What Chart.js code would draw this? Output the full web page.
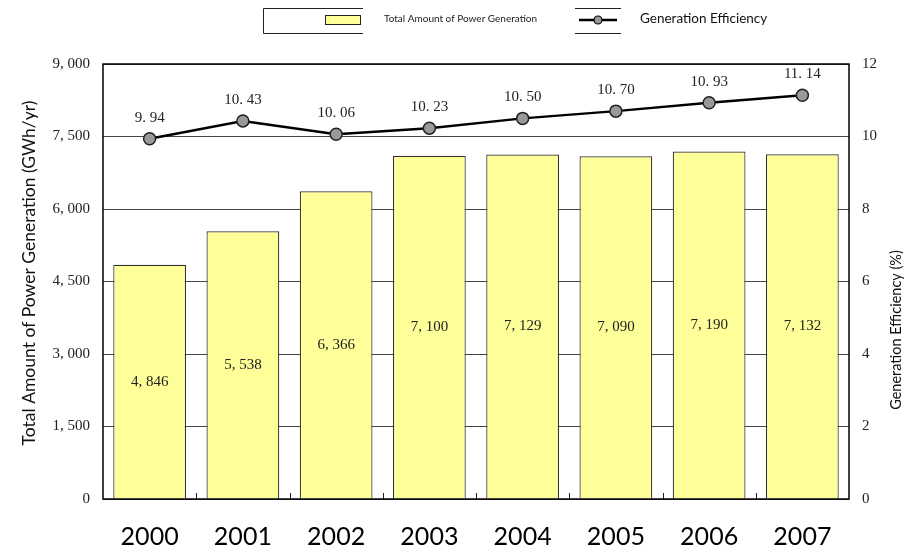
<!DOCTYPE html>
<html>
<head>
<meta charset="utf-8">
<script src="https://cdn.jsdelivr.net/npm/chart.js@4.4.0/dist/chart.umd.min.js"></script>
<style>
  html, body { margin: 0; padding: 0; background: #fff; }
  #chartWrap { width: 913px; height: 548px; }
</style>
</head>
<body>
<div id="chartWrap"><canvas id="powerChart" width="913" height="548"></canvas></div>
<script>
// Data
const years = ['2000', '2001', '2002', '2003', '2004', '2005', '2006', '2007'];
const powerGeneration = [4846, 5538, 6366, 7100, 7129, 7090, 7190, 7132]; // GWh/yr
const efficiency = [9.94, 10.43, 10.06, 10.23, 10.50, 10.70, 10.93, 11.14]; // %
const powerAxisRange = [0, 9000, 1500]; // min, max, step
const effAxisRange = [0, 12, 2];

const barLabel = 'Total Amount of Power Generation';
const lineLabel = 'Generation Efficiency';
const leftTitle = 'Total Amount of Power Generation (GWh/yr)';
const rightTitle = 'Generation Efficiency (%)';

const SERIF = '"Liberation Serif", "DejaVu Serif", serif';
const SANS = 'Lato, "Open Sans", sans-serif';
const BAR_FILL = '#FFFF99';

// "4,846" -> "4, 846" like the full-width comma of the original
function fmtThousands(v) {
    return Number(v).toLocaleString('en-US').replace(/,/g, ', ');
}
function fmtPercent(v) {
    return v.toFixed(2).replace('.', '. ');
}

// Everything the default chart doesn't draw: value labels, frame, legend, axis titles
const decorPlugin = {
    id: 'decor',
    afterDatasetsDraw(chart) {
        const ctx = chart.ctx;
        ctx.save();
        ctx.fillStyle = '#222';
        ctx.font = '15px ' + SERIF;
        ctx.textAlign = 'center';
        ctx.textBaseline = 'middle';

        // bar values, in the middle of each bar
        const barMeta = chart.getDatasetMeta(1);
        barMeta.data.forEach((el, i) => {
            ctx.fillText(fmtThousands(powerGeneration[i]), el.x, (el.y + el.base) / 2);
        });

        // efficiency values, above each point
        const lineMeta = chart.getDatasetMeta(0);
        lineMeta.data.forEach((el, i) => {
            ctx.fillText(fmtPercent(efficiency[i]), el.x, el.y - 21);
        });
        ctx.restore();
    },
    afterDraw(chart) {
        const ctx = chart.ctx;
        const area = chart.chartArea;
        const xScale = chart.scales.x;
        ctx.save();

        // small inward ticks between categories
        ctx.strokeStyle = '#222';
        ctx.lineWidth = 1;
        for (let i = 1; i < years.length; i++) {
            const x = Math.round((xScale.getPixelForValue(i - 1) + xScale.getPixelForValue(i)) / 2) + 0.5;
            ctx.beginPath();
            ctx.moveTo(x, area.bottom);
            ctx.lineTo(x, area.bottom - 6);
            ctx.stroke();
        }

        // plot frame
        ctx.strokeStyle = '#000';
        ctx.lineWidth = 1.5;
        ctx.strokeRect(area.left, area.top, area.right - area.left, area.bottom - area.top);

        // legend - bar entry
        ctx.lineWidth = 1;
        ctx.strokeStyle = '#222';
        ctx.beginPath();
        ctx.moveTo(363, 8.5); ctx.lineTo(263.5, 8.5); ctx.lineTo(263.5, 33.5); ctx.lineTo(363, 33.5);
        ctx.stroke();
        ctx.fillStyle = BAR_FILL;
        ctx.fillRect(325.5, 15.5, 35, 9);
        ctx.strokeRect(325.5, 15.5, 35, 9);
        ctx.fillStyle = '#222';
        ctx.font = '10px ' + SANS;
        ctx.textAlign = 'left';
        ctx.textBaseline = 'middle';
        ctx.fillText(barLabel, 384, 19);

        // legend - line entry
        ctx.beginPath();
        ctx.moveTo(575, 8.5); ctx.lineTo(621, 8.5);
        ctx.moveTo(575, 33.5); ctx.lineTo(621, 33.5);
        ctx.stroke();
        ctx.lineWidth = 2.5;
        ctx.strokeStyle = '#000';
        ctx.beginPath();
        ctx.moveTo(579, 20); ctx.lineTo(617, 20);
        ctx.stroke();
        ctx.beginPath();
        ctx.arc(598, 20, 4, 0, Math.PI * 2);
        ctx.fillStyle = '#999';
        ctx.fill();
        ctx.lineWidth = 1.2;
        ctx.stroke();
        ctx.fillStyle = '#111';
        ctx.font = '13.5px ' + SANS;
        ctx.fillText(lineLabel, 640, 19);

        // axis titles
        ctx.fillStyle = '#111';
        ctx.textAlign = 'center';
        ctx.save();
        ctx.translate(29, 273);
        ctx.rotate(-Math.PI / 2);
        ctx.font = '17.5px ' + SANS;
        ctx.fillText(leftTitle, 0, 0);
        ctx.restore();

        ctx.save();
        ctx.translate(896, 330);
        ctx.rotate(-Math.PI / 2);
        ctx.font = '14.5px ' + SANS;
        ctx.fillText(rightTitle, 0, 0);
        ctx.restore();

        ctx.restore();
    }
};

const ctx = document.getElementById('powerChart');

const config = {
    type: 'bar',
    data: {
        labels: years,
        datasets: [
            {
                type: 'line',
                label: lineLabel,
                data: efficiency,
                yAxisID: 'yEff',
                borderColor: '#000',
                borderWidth: 2.5,
                pointRadius: 6,
                pointBackgroundColor: '#999',
                pointBorderColor: '#222',
                pointBorderWidth: 1.5,
                tension: 0,
                order: 0
            },
            {
                type: 'bar',
                label: barLabel,
                data: powerGeneration,
                yAxisID: 'y',
                backgroundColor: BAR_FILL,
                borderColor: '#333',
                borderWidth: 1.2,
                barPercentage: 0.78,
                categoryPercentage: 1.0,
                order: 1
            }
        ]
    },
    options: {
        responsive: false,
        animation: false,
        layout: { padding: { top: 64, left: 0, right: 0, bottom: 0 } },
        plugins: {
            legend: { display: false },
            tooltip: { enabled: false }
        },
        scales: {
            x: {
                grid: { display: false },
                border: { display: false },
                ticks: {
                    color: '#000',
                    font: { family: SANS, size: 25 },
                    padding: 15
                },
                afterFit(scale) { scale.height = 49; }
            },
            y: {
                position: 'left',
                min: powerAxisRange[0],
                max: powerAxisRange[1],
                ticks: {
                    stepSize: powerAxisRange[2],
                    color: '#222',
                    font: { family: SERIF, size: 15 },
                    padding: 13,
                    callback: v => fmtThousands(v)
                },
                grid: { color: '#444', lineWidth: 1, drawTicks: false },
                border: { display: false },
                afterFit(scale) { scale.width = 103; }
            },
            yEff: {
                position: 'right',
                min: effAxisRange[0],
                max: effAxisRange[1],
                ticks: {
                    stepSize: effAxisRange[2],
                    color: '#222',
                    font: { family: SERIF, size: 15 },
                    padding: 13
                },
                grid: { display: false, drawTicks: false },
                border: { display: false },
                afterFit(scale) { scale.width = 64; }
            }
        }
    },
    plugins: [decorPlugin]
};

new Chart(ctx, config);
</script>
</body>
</html>
